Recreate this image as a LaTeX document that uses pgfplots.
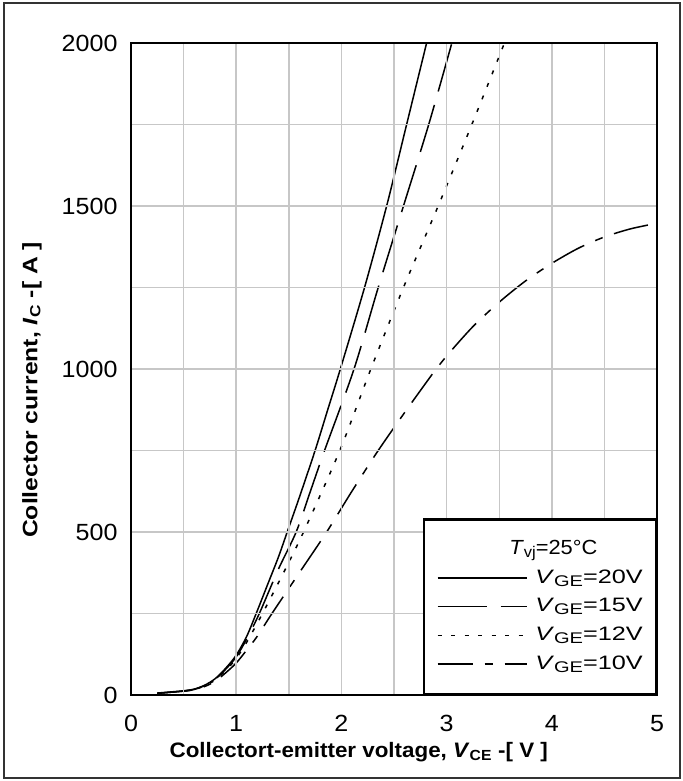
\documentclass[border=0pt]{standalone}
\usepackage{pgfplots}
\pgfplotsset{compat=1.18}
\usepackage{fontspec}
\setmainfont{Liberation Sans}[FakeStretch=1.07]
\newfontfamily\legfont{Liberation Sans}[FakeStretch=1.3]
\newfontfamily\ylabfont{Liberation Sans}[FakeStretch=1.18]
\newcommand\lsub[1]{\raisebox{-3bp}{\fontsize{15.5}{16}\selectfont #1}}
\begin{document}
\begin{tikzpicture}
\begin{axis}[name=ax,
  width=526bp, height=652bp, scale only axis,
  xmin=0, xmax=5, ymin=0, ymax=2000,
  xtick={0,1,2,3,4,5}, ytick={0,500,1000,1500,2000},
  minor xtick={0.5,1.5,2.5,3.5,4.5}, minor ytick={250,750,1250,1750},
  grid=both,
  major grid style={draw=black!22, line width=1.4bp},
  minor grid style={draw=black!22, line width=1.4bp},
  axis line style={line width=2.5bp},
  tick style={draw=none},
  tick label style={font=\fontsize{23.5}{28}\selectfont},
  /pgf/number format/assume math mode=true,
  /pgf/number format/1000 sep={},
  xticklabel style={yshift=-17bp},
  yticklabel style={xshift=-10bp},
  xlabel={\bfseries Collectort-emitter voltage, \textit{V}\textsubscript{CE} -[ V ]},
  ylabel={\bfseries Collector current, \textit{I}\textsubscript{C} -[ A ]},
  xlabel style={at={(axis description cs:0.433,-0.0951)}, anchor=base, font=\fontsize{21}{24}\selectfont},
  ylabel style={at={(axis description cs:-0.178,0.468)}, anchor=base, font=\ylabfont\fontsize{21}{24}\selectfont},
  axis on top,
  legend style={at={(axis description cs:1,0)}, anchor=south east, draw=black, line width=2.5bp, fill=white,
    font=\legfont\fontsize{19.5}{22}\selectfont, inner xsep=13bp, inner ysep=21bp, row sep=11.2bp,
    nodes={inner sep=0pt, text height=14bp, text depth=3.5bp},
    /tikz/every odd column/.append style={column sep=8bp}},
  legend cell align=left,
  legend image code/.code={\draw[#1] (0bp,0bp) -- (89bp,0bp);},
]
\addlegendimage{empty legend}
\addlegendentry{\hspace*{-26bp}{\rmfamily\fontsize{20.5}{22}\selectfont\textit{T}\lsub{vj}=25°C}}

\addplot[black, line width=1.5bp, smooth] coordinates {
(0.25,6) (0.4,10) (0.5,13) (0.6,18) (0.7,30) (0.8,50) (0.9,82) (1.0,122) (1.1,180) (1.19,250) (1.3,340) (1.4,422) (1.485,500) (1.6,606) (1.75,750) (1.87,875) (1.99,1000) (2.22,1250) (2.43,1500) (2.62,1750) (2.81,2000)};
\addlegendentry{\textit{V}\lsub{GE}=20V}

\addplot[black, line width=1.5bp, smooth, dash pattern=on 49bp off 14bp] coordinates {
(0.25,5) (0.4,9) (0.5,12) (0.6,17) (0.7,29) (0.8,48) (0.9,79) (1.0,117) (1.1,172) (1.22,250) (1.4,385) (1.57,500) (1.7,620) (1.84,750) (2.12,1000) (2.35,1250) (2.59,1500) (2.83,1750) (3.05,2000)};
\addlegendentry{\textit{V}\lsub{GE}=15V}

\addplot[black, line width=1.5bp, smooth, dash pattern=on 4bp off 9.5bp] coordinates {
(0.25,5) (0.5,12) (0.6,17) (0.7,28) (0.8,46) (0.9,75) (1.0,112) (1.1,162) (1.25,250) (1.45,375) (1.64,500) (1.985,750) (2.28,1000) (2.59,1250) (2.92,1500) (3.24,1750) (3.55,2000)};
\addlegendentry{\textit{V}\lsub{GE}=12V}

\addplot[black, line width=1.5bp, smooth, dash pattern=on 35bp off 12bp on 8bp off 12bp] coordinates {
(0.25,5) (0.5,12) (0.6,16) (0.7,26) (0.8,42) (0.9,68) (1.0,98) (1.1,138) (1.2,180) (1.34,250) (1.6,375) (1.86,500) (2.1,625) (2.35,750) (2.62,875) (2.90,1000) (3.0,1040) (3.25,1130) (3.5,1205) (3.75,1270) (4.0,1324) (4.25,1370) (4.5,1405) (4.75,1430) (5.0,1447)};
\addlegendentry{\textit{V}\lsub{GE}=10V}
\end{axis}
\draw[black!80, line width=1.5bp] ([shift={(-127bp,-83bp)}]ax.south west) rectangle ([shift={(23bp,40bp)}]ax.north east);
\pgfresetboundingbox
\path[use as bounding box] ([shift={(-131bp,-86bp)}]ax.south west) rectangle ([shift={(26bp,43bp)}]ax.north east);
\end{tikzpicture}
\end{document}
